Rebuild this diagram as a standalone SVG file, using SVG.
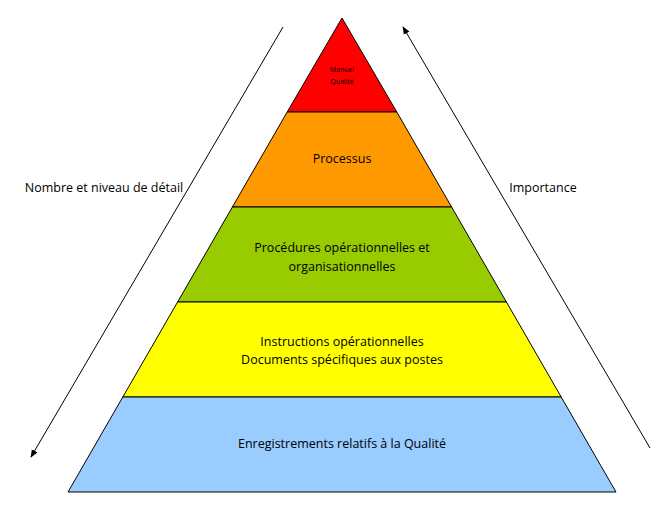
<svg xmlns="http://www.w3.org/2000/svg" width="672" height="513" viewBox="0 0 672 513">
<style>
.l{stroke:#000;stroke-width:1}
text{font-family:"Open Sans","Liberation Sans",Arial,sans-serif;font-size:12.5px;fill:#000;text-anchor:middle}
.s{font-size:7px}
.a{stroke:#000;stroke-width:1;fill:none}
</style>
<defs><marker id="ah" viewBox="0 0 10 10" refX="9" refY="5" markerWidth="8" markerHeight="8" orient="auto"><path d="M0,1 L10,5 L0,9 z" fill="#000"/></marker></defs>
<rect width="672" height="513" fill="#fff"/>
<g id="n1"><polygon class="l" fill="#ff0000" points="342,18 396.8,112 287.2,112"/><text class="s" x="342" y="72">Manuel</text><text class="s" x="342" y="84">Qualité</text></g>
<g id="n2"><polygon class="l" fill="#ff9900" points="287.2,112 396.8,112 451.6,207 232.4,207"/><text x="342" y="163">Processus</text></g>
<g id="n3"><polygon class="l" fill="#99cc00" points="232.4,207 451.6,207 506.4,302 177.6,302"/><text x="342" y="252">Procédures opérationnelles et</text><text x="342" y="271">organisationnelles</text></g>
<g id="n4"><polygon class="l" fill="#ffff00" points="177.6,302 506.4,302 561.2,397 122.8,397"/><text x="342" y="346">Instructions opérationnelles</text><text x="342" y="364">Documents spécifiques aux postes</text></g>
<g id="n5"><polygon class="l" fill="#99ccff" points="122.8,397 561.2,397 616,492 68,492"/><text x="342" y="448">Enregistrements relatifs à la Qualité</text></g>
<g id="connectors">
<line class="a" x1="283" y1="27" x2="31" y2="457" marker-end="url(#ah)"/>
<line class="a" x1="650" y1="448" x2="403" y2="27" marker-end="url(#ah)"/>
</g>
<text x="104" y="192">Nombre et niveau de détail</text>
<text x="543" y="192">Importance</text>
</svg>
